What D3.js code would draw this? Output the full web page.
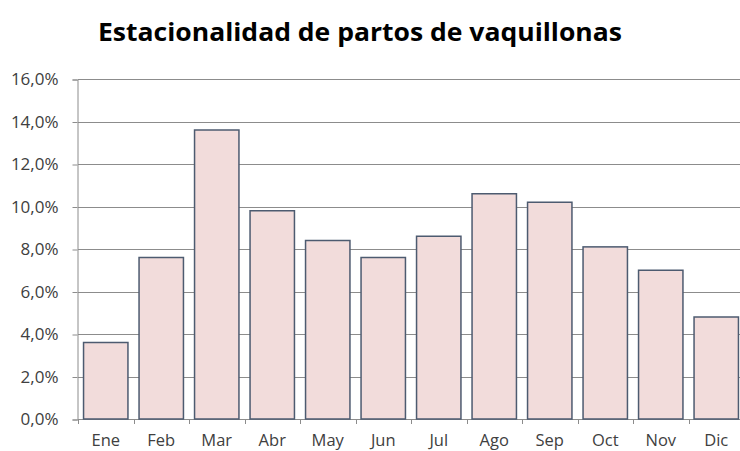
<!DOCTYPE html>
<html>
<head>
<meta charset="utf-8">
<script src="https://cdn.jsdelivr.net/npm/d3@7"></script>
<style>
  body { margin: 0; background: #fff; }
  svg { display: block; }
</style>
</head>
<body>
<div class="graph"></div>
<script>
const meses = ['Ene', 'Feb', 'Mar', 'Abr', 'May', 'Jun', 'Jul', 'Ago', 'Sep', 'Oct', 'Nov', 'Dic'];
const partos = [3.6, 7.6, 13.6, 9.8, 8.4, 7.6, 8.6, 10.6, 10.2, 8.1, 7.0, 4.8];
const yTicks = [0, 2, 4, 6, 8, 10, 12, 14, 16];
const titulo = 'Estacionalidad de partos de vaquillonas';

const dim = { w: 740, h: 451, left: 78, right: 744, top: 79, bottom: 419 };

const svg = d3.select('.graph')
    .append('svg')
    .attr('width', dim.w)
    .attr('height', dim.h);

const xScale = d3.scaleBand()
    .domain(meses)
    .range([dim.left, dim.right])
    .paddingInner(0.2)
    .paddingOuter(0.1);

const yScale = d3.scaleLinear()
    .domain([0, 16])
    .range([dim.bottom, dim.top]);

const fmt = d => d3.format('.1f')(d).replace('.', ',') + '%';

// gridlines
svg.append('g')
    .selectAll('line')
    .data(yTicks)
    .enter()
    .append('line')
    .attr('x1', dim.left)
    .attr('x2', dim.right)
    .attr('y1', d => Math.round(yScale(d)) + 0.5)
    .attr('y2', d => Math.round(yScale(d)) + 0.5)
    .attr('stroke', '#8c8c8c')
    .attr('stroke-width', 1);

// y axis
const yAxis = d3.axisLeft(yScale).tickValues(yTicks).tickFormat(fmt).tickSize(5).tickPadding(14);
const gy = svg.append('g')
    .attr('transform', `translate(${dim.left - 0.5},0.5)`)
    .call(yAxis);
gy.attr('font-size', 17).attr('font-family', '"Open Sans", sans-serif');
gy.select('.domain').attr('stroke', '#8c8c8c');
gy.selectAll('.tick line').attr('stroke', '#8c8c8c');
gy.selectAll('.tick text').attr('fill', '#404040');

// x axis ticks at band boundaries
const bounds = d3.range(meses.length + 1).map(i => dim.left + i * (dim.right - dim.left) / meses.length);
svg.append('g')
    .selectAll('line')
    .data(bounds)
    .enter()
    .append('line')
    .attr('x1', d => Math.round(d) + 0.5)
    .attr('x2', d => Math.round(d) + 0.5)
    .attr('y1', dim.bottom)
    .attr('y2', dim.bottom + 5)
    .attr('stroke', '#8c8c8c');

svg.append('g')
    .selectAll('text')
    .data(meses)
    .enter()
    .append('text')
    .attr('x', d => xScale(d) + xScale.bandwidth() / 2)
    .attr('y', 446)
    .attr('text-anchor', 'middle')
    .attr('fill', '#404040')
    .attr('font-family', '"Open Sans", sans-serif')
    .attr('font-size', 16.5)
    .text(d => d);

// bars
svg.append('g')
    .selectAll('rect')
    .data(partos)
    .enter()
    .append('rect')
    .attr('x', (d, i) => xScale(meses[i]))
    .attr('y', d => yScale(d))
    .attr('width', xScale.bandwidth())
    .attr('height', d => yScale(0) - yScale(d))
    .attr('fill', '#f2dcdb')
    .attr('stroke', '#4d5b70')
    .attr('stroke-width', 1.5);

// title
svg.append('text')
    .attr('x', 360)
    .attr('y', 41)
    .attr('text-anchor', 'middle')
    .attr('fill', '#000')
    .attr('textLength', 524)
    .attr('lengthAdjust', 'spacingAndGlyphs')
    .attr('font-family', '"Open Sans", sans-serif')
    .attr('font-weight', 'bold')
    .attr('font-size', 25)
    .text(titulo);
</script>
</body>
</html>
